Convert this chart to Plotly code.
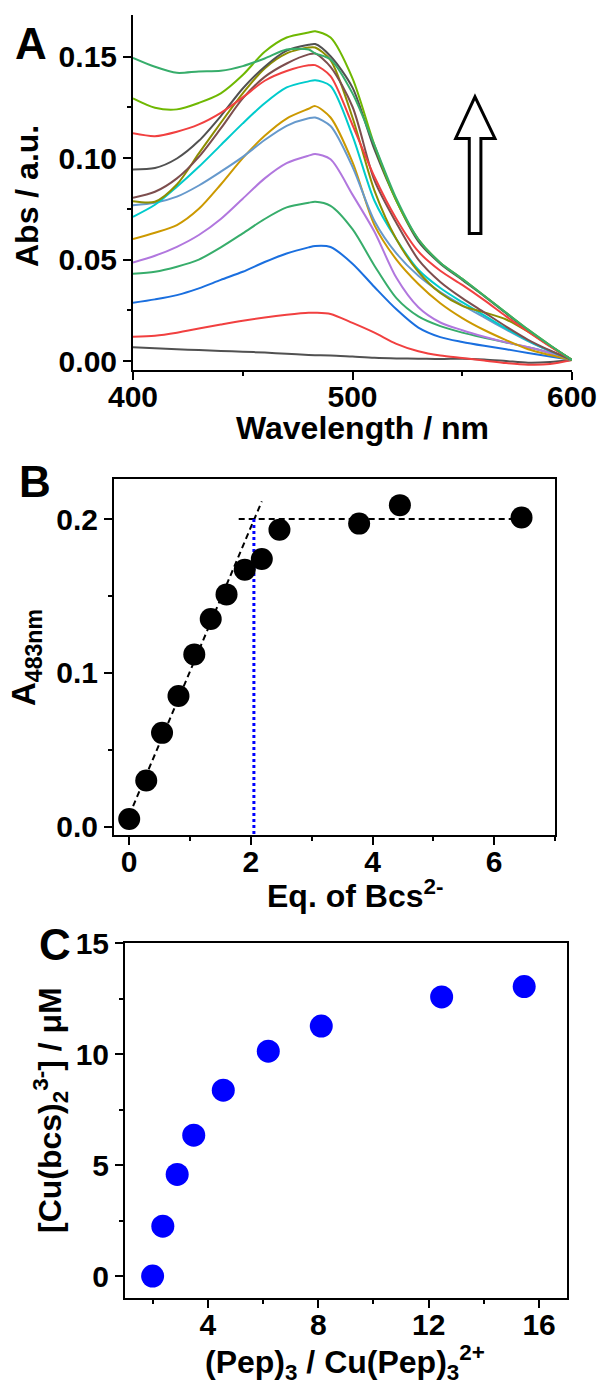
import plotly.graph_objects as go

# ---------------- Panel A: UV-vis spectra ----------------
wavelength = [400, 410, 420, 430, 440, 450, 460, 470, 480, 483, 490,
              500, 510, 520, 530, 540, 550, 560, 570, 580, 590, 600]

abs_01 = [0.0068, 0.0063, 0.0058, 0.0054, 0.0050, 0.0046, 0.0042, 0.0036, 0.0030, 0.0029, 0.0028,
          0.0022, 0.0016, 0.0013, 0.0012, 0.0010, 0.0012, 0.0008, 0.0000, -0.0008, -0.0005, 0.0005]
abs_02 = [0.0120, 0.0125, 0.0140, 0.0160, 0.0180, 0.0199, 0.0215, 0.0228, 0.0238, 0.0238, 0.0232,
          0.0188, 0.0140, 0.0085, 0.0048, 0.0027, 0.0015, 0.0003, -0.0010, -0.0018, -0.0015, 0.0005]
abs_03 = [0.0287, 0.0304, 0.0325, 0.0358, 0.0400, 0.0440, 0.0488, 0.0530, 0.0560, 0.0567, 0.0562,
          0.0480, 0.0365, 0.0255, 0.0165, 0.0118, 0.0094, 0.0075, 0.0058, 0.0040, 0.0022, 0.0005]
abs_04 = [0.0430, 0.0440, 0.0465, 0.0500, 0.0560, 0.0629, 0.0700, 0.0757, 0.0780, 0.0785, 0.0765,
          0.0650, 0.0470, 0.0310, 0.0220, 0.0172, 0.0140, 0.0115, 0.0092, 0.0068, 0.0040, 0.0005]
abs_05 = [0.0486, 0.0519, 0.0563, 0.0621, 0.0700, 0.0800, 0.0900, 0.0975, 0.1012, 0.1020, 0.0994,
          0.0820, 0.0637, 0.0410, 0.0265, 0.0190, 0.0152, 0.0120, 0.0092, 0.0068, 0.0040, 0.0005]
abs_06 = [0.0601, 0.0632, 0.0670, 0.0750, 0.0870, 0.1000, 0.1110, 0.1195, 0.1243, 0.1256, 0.1200,
          0.0980, 0.0670, 0.0500, 0.0380, 0.0285, 0.0212, 0.0153, 0.0103, 0.0058, 0.0030, 0.0005]
abs_07 = [0.0768, 0.0780, 0.0810, 0.0865, 0.0933, 0.1006, 0.1089, 0.1159, 0.1196, 0.1200, 0.1158,
          0.0957, 0.0690, 0.0530, 0.0420, 0.0340, 0.0275, 0.0215, 0.0155, 0.0098, 0.0048, 0.0005]
abs_08 = [0.0711, 0.0770, 0.0859, 0.0957, 0.1064, 0.1171, 0.1270, 0.1348, 0.1378, 0.1384, 0.1355,
          0.1110, 0.0790, 0.0600, 0.0450, 0.0360, 0.0290, 0.0225, 0.0160, 0.0100, 0.0050, 0.0005]
abs_09 = [0.0788, 0.0785, 0.0870, 0.1023, 0.1174, 0.1319, 0.1442, 0.1516, 0.1545, 0.1545, 0.1483,
          0.1200, 0.0840, 0.0600, 0.0440, 0.0335, 0.0272, 0.0240, 0.0205, 0.0145, 0.0075, 0.0005]
abs_10 = [0.0805, 0.0834, 0.0900, 0.1006, 0.1146, 0.1294, 0.1400, 0.1466, 0.1511, 0.1515, 0.1450,
          0.1253, 0.0890, 0.0680, 0.0500, 0.0390, 0.0310, 0.0240, 0.0170, 0.0105, 0.0052, 0.0005]
abs_11 = [0.0944, 0.0951, 0.0998, 0.1085, 0.1207, 0.1343, 0.1450, 0.1529, 0.1558, 0.1562, 0.1502,
          0.1347, 0.1043, 0.0790, 0.0590, 0.0480, 0.0400, 0.0320, 0.0235, 0.0150, 0.0075, 0.0005]
abs_12 = [0.1122, 0.1108, 0.1130, 0.1166, 0.1223, 0.1299, 0.1381, 0.1429, 0.1457, 0.1458, 0.1404,
          0.1163, 0.0908, 0.0700, 0.0540, 0.0445, 0.0375, 0.0300, 0.0220, 0.0145, 0.0072, 0.0005]
abs_13 = [0.1294, 0.1248, 0.1240, 0.1272, 0.1319, 0.1409, 0.1524, 0.1594, 0.1619, 0.1625, 0.1594,
          0.1393, 0.1064, 0.0790, 0.0600, 0.0485, 0.0405, 0.0322, 0.0238, 0.0155, 0.0078, 0.0005]
abs_14 = [0.1494, 0.1450, 0.1420, 0.1427, 0.1430, 0.1453, 0.1491, 0.1535, 0.1535, 0.1516, 0.1486,
          0.1319, 0.1064, 0.0800, 0.0600, 0.0485, 0.0405, 0.0322, 0.0238, 0.0155, 0.0078, 0.0005]

spectra = [abs_01, abs_02, abs_03, abs_04, abs_05, abs_06, abs_07,
           abs_08, abs_09, abs_10, abs_11, abs_12, abs_13, abs_14]
spectra_colors = ["#515151", "#F14040", "#1A6FDF", "#37AD6B", "#B177DE", "#CC9900", "#6699CC",
                  "#00CBCC", "#8E8E00", "#7D4E4E", "#515151", "#F14040", "#6FB802", "#37AD6B"]

# ---------------- Panel B: titration at 483 nm ----------------
bcs_eq = [0.00, 0.28, 0.54, 0.81, 1.07, 1.34, 1.60, 1.90, 2.18, 2.47, 3.78, 4.45, 6.45]
a483 = [0.005, 0.030, 0.061, 0.085, 0.112, 0.135, 0.151, 0.167, 0.174, 0.193, 0.197, 0.209, 0.201]
rise_x = [0.00, 2.18]
rise_y = [0.0074, 0.2115]
plateau_x = [1.80, 6.46]
plateau_y = [0.200, 0.200]
endpoint_x = [2.05, 2.05]
endpoint_y = [0.200, -0.0054]

# ---------------- Panel C: Cu(bcs)2 formed ----------------
pep_ratio = [2.00, 2.37, 2.89, 3.49, 4.56, 6.19, 8.11, 12.47, 15.46]
cu_bcs = [0.00, 2.25, 4.58, 6.35, 8.38, 10.14, 11.27, 12.58, 13.05]

FONT = "Liberation Sans, Arial, Helvetica, sans-serif"
W, H = 599, 1386


def px_x(p):
    return p / W


def px_y(p):
    return 1 - p / H


fig = go.Figure()

for ys, col in zip(spectra, spectra_colors):
    fig.add_trace(go.Scatter(x=wavelength, y=ys, mode="lines",
                             line=dict(color=col, width=2, shape="spline", smoothing=0.8),
                             xaxis="x", yaxis="y", hoverinfo="skip"))

fig.add_trace(go.Scatter(x=rise_x, y=rise_y, mode="lines",
                         line=dict(color="black", width=2, dash="6px,4px"),
                         xaxis="x2", yaxis="y2"))
fig.add_trace(go.Scatter(x=plateau_x, y=plateau_y, mode="lines",
                         line=dict(color="black", width=2, dash="6px,4px"),
                         xaxis="x2", yaxis="y2"))
fig.add_trace(go.Scatter(x=endpoint_x, y=endpoint_y, mode="lines",
                         line=dict(color="#0000FF", width=3, dash="dot"),
                         xaxis="x2", yaxis="y2"))
fig.add_trace(go.Scatter(x=bcs_eq, y=a483, mode="markers",
                         marker=dict(color="black", size=22, line=dict(width=0)),
                         xaxis="x2", yaxis="y2"))

fig.add_trace(go.Scatter(x=pep_ratio, y=cu_bcs, mode="markers",
                         marker=dict(color="#0000FF", size=23, line=dict(width=0)),
                         xaxis="x3", yaxis="y3"))

axis_common = dict(showline=True, linecolor="black", linewidth=2, ticks="outside",
                   ticklen=8, tickwidth=2, tickcolor="black", showgrid=False, zeroline=False,
                   automargin=False,
                   tickfont=dict(family=FONT, size=30, color="black", weight="bold"))
xaxis_common = dict(axis_common, ticklabelstandoff=-9)
minor_common = dict(ticks="outside", ticklen=4, tickwidth=2, tickcolor="black", showgrid=False)

# arrow outline in spectrum coordinates (nm, absorbance)
arrow_x = [553.2, 553.2, 547.0, 555.8, 564.9, 558.5, 558.5]
arrow_y = [0.0629, 0.1097, 0.1097, 0.1302, 0.1097, 0.1097, 0.0629]
arrow_path = "M " + " L ".join(f"{ax} {ay}" for ax, ay in zip(arrow_x, arrow_y)) + " Z"

fig.update_layout(
    width=W, height=H,
    margin=dict(l=0, r=0, t=0, b=0, pad=0, autoexpand=False),
    paper_bgcolor="white", plot_bgcolor="white",
    showlegend=False,
    font=dict(family=FONT, color="black", weight="bold"),
    xaxis=dict(xaxis_common, domain=[px_x(133), px_x(572)], range=[400, 600],
               tickvals=[400, 500, 600], anchor="y",
               minor=dict(minor_common, tickvals=[450, 550])),
    yaxis=dict(axis_common, domain=[px_y(370), px_y(15)], range=[-0.0044, 0.1705],
               tickvals=[0.0, 0.05, 0.10, 0.15], tickformat=".2f", anchor="x",
               minor=dict(minor_common, tickvals=[0.025, 0.075, 0.125])),
    xaxis2=dict(xaxis_common, domain=[px_x(114), px_x(555)], range=[-0.25, 7.0],
                tickvals=[0, 2, 4, 6], anchor="y2", mirror=True,
                minor=dict(minor_common, tickvals=[1, 3, 5, 7])),
    yaxis2=dict(axis_common, domain=[px_y(835), px_y(479)], range=[-0.0054, 0.226],
                tickvals=[0.0, 0.1, 0.2], tickformat=".1f", anchor="x2", mirror=True,
                minor=dict(minor_common, tickvals=[0.05, 0.15])),
    xaxis3=dict(xaxis_common, domain=[px_x(125), px_x(566.7)], range=[1, 17],
                tickvals=[4, 8, 12, 16], anchor="y3", mirror=True,
                minor=dict(minor_common, tickvals=[2, 6, 10, 14])),
    yaxis3=dict(axis_common, domain=[px_y(1298.3), px_y(943.3)], range=[-1, 15],
                tickvals=[0, 5, 10, 15], anchor="x3", mirror=True,
                minor=dict(minor_common, tickvals=[2.5, 7.5, 12.5])),
    shapes=[dict(type="path", path=arrow_path, xref="x", yref="y",
                 line=dict(color="black", width=3), fillcolor="white")],
)

title_font = dict(family=FONT, size=32, color="black", weight="bold")
label_font = dict(family=FONT, size=44, color="black", weight="bold")


def note(text, x, y, font, angle=0):
    fig.add_annotation(text=text, x=px_x(x), y=px_y(y), xref="paper", yref="paper",
                       xanchor="center", yanchor="middle", showarrow=False,
                       textangle=angle, font=font)


note("A", 31, 43, label_font)
note("B", 34.5, 481, label_font)
note("C", 54.7, 944, label_font)

note("Abs / a.u.", 26.5, 196.5, title_font, -90)
note("Wavelength / nm", 362, 428, title_font)

note("A<sub>483nm</sub>", 26, 658, dict(title_font, size=33), -90)
note("Eq. of Bcs<sup>2-</sup>", 355, 894, title_font)

note("[Cu(bcs)<sub>2</sub><sup>3-</sup>] / \u03bcM", 50, 1110, title_font, -90)
note("(Pep)<sub>3</sub> / Cu(Pep)<sub>3</sub><sup>2+</sup>", 345, 1362, title_font)

fig.write_html("out.html")
